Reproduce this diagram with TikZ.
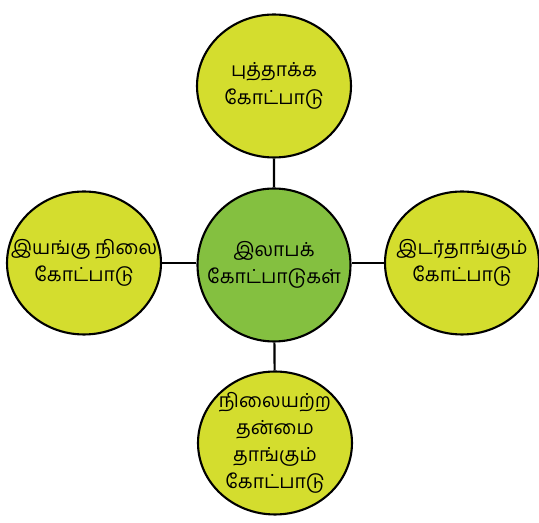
\documentclass[tikz,border=0pt]{standalone}
\usepackage{fontspec}
\usetikzlibrary{shapes.geometric}
\newfontfamily\tamilfont[Script=Tamil]{Hind Madurai}
\definecolor{outerfill}{RGB}{212,221,46}
\definecolor{innerfill}{RGB}{132,192,64}
\begin{document}
\begin{tikzpicture}
			[x=0.02cm, y=-0.02cm, every node/.style={font=\tamilfont\fontsize{11}{15.5}\selectfont, align=center},
			theory/.style={ellipse, draw, line width=1.2pt, fill=outerfill, minimum width=3.08cm, minimum height=2.86cm, inner sep=-1cm}]
			\useasboundingbox (0,0) rectangle (539,523);
			\node[theory, circle, fill=innerfill, minimum size=3.06cm] (c0) at (274,265) {இலாபக்\\கோட்பாடுகள்};
			\node[theory] (t1) at (274,86) {புத்தாக்க\\கோட்பாடு};
			\node[theory] (t2) at (84,263) {இயங்கு நிலை\\கோட்பாடு};
			\node[theory] (t3) at (462,263) {இடர்தாங்கும்\\கோட்பாடு};
			\node[theory] (t4) at (275,443) {நிலையற்ற\\தன்மை\\தாங்கும்\\கோட்பாடு};
			\draw[line width=1.2pt] (t1) -- (c0) -- (t4);
			\draw[line width=1.2pt] (t2) -- (t2 -| c0.west) (c0.east |- t3) -- (t3);
		\end{tikzpicture}
\end{document}
